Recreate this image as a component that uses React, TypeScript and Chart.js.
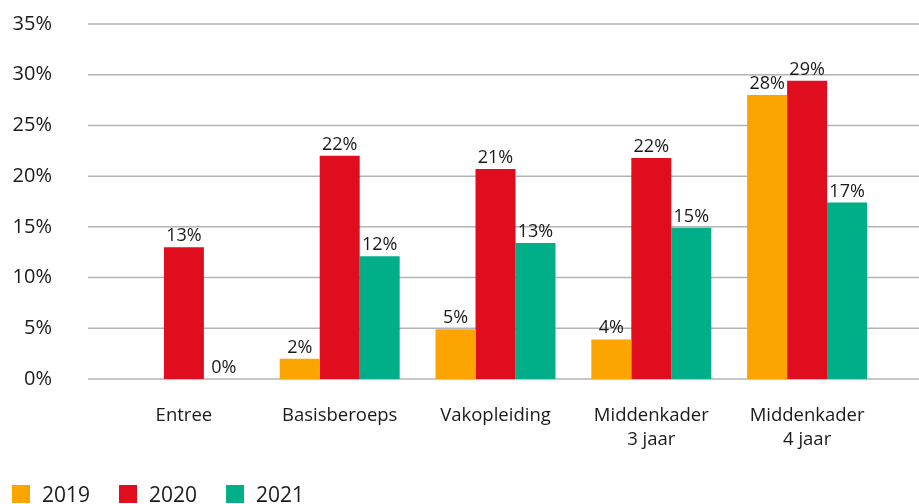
import React, { useEffect, useRef } from "react";
import { Chart, registerables } from "chart.js";

Chart.register(...registerables);

const categories: (string | string[])[] = [
  "Entree",
  "Basisberoeps",
  "Vakopleiding",
  ["Middenkader", "3 jaar"],
  ["Middenkader", "4 jaar"],
];
const seriesNames = ["2019", "2020", "2021"];
const values2019: (number | null)[] = [null, 2.0, 4.9, 3.9, 28.0];
const values2020: (number | null)[] = [13.0, 22.0, 20.7, 21.8, 29.4];
const values2021: (number | null)[] = [0, 12.1, 13.4, 14.9, 17.4];
const yTicks = [0, 5, 10, 15, 20, 25, 30, 35];

const COLORS = ["#fca400", "#e00d1f", "#00ae87"];
const FONT = "'Open Sans', 'Noto Sans', sans-serif";
const TEXT = "#1a1a1a";

const gridPlugin = {
  id: "wideGrid",
  beforeDatasetsDraw(chart: any) {
    const ctx = chart.ctx;
    const y = chart.scales.y;
    ctx.save();
    ctx.strokeStyle = "#b4b4b4";
    ctx.lineWidth = 1.5;
    y.ticks.forEach((t: any) => {
      const py = y.getPixelForValue(t.value);
      ctx.beginPath();
      ctx.moveTo(88, py);
      ctx.lineTo(chart.width, py);
      ctx.stroke();
    });
    ctx.restore();
  },
};

const labelPlugin = {
  id: "valueLabels",
  afterDatasetsDraw(chart: any) {
    const ctx = chart.ctx;
    ctx.save();
    ctx.font = `18px ${FONT}`;
    ctx.fillStyle = TEXT;
    ctx.textAlign = "center";
    ctx.textBaseline = "alphabetic";
    chart.data.datasets.forEach((ds: any, di: number) => {
      const meta = chart.getDatasetMeta(di);
      meta.data.forEach((el: any, i: number) => {
        const v = ds.data[i];
        if (v === null || v === undefined) return;
        ctx.fillText(`${Math.round(v)}%`, el.x, el.y - 6);
      });
    });
    ctx.restore();
  },
};

const legendPlugin = {
  id: "bottomLegend",
  afterDraw(chart: any) {
    const ctx = chart.ctx;
    ctx.save();
    ctx.font = `21px ${FONT}`;
    ctx.textBaseline = "alphabetic";
    ctx.textAlign = "left";
    let x = 12;
    chart.data.datasets.forEach((ds: any) => {
      ctx.fillStyle = ds.backgroundColor;
      ctx.fillRect(x, 485, 18, 18);
      ctx.fillStyle = TEXT;
      const tx = x + 30;
      ctx.fillText(ds.label, tx, 502);
      x = tx + ctx.measureText(ds.label).width + 29;
    });
    ctx.restore();
  },
};

export default function App() {
  const ref = useRef<HTMLCanvasElement | null>(null);

  useEffect(() => {
    if (!ref.current) return;
    const chart = new Chart(ref.current, {
      type: "bar",
      data: {
        labels: categories,
        datasets: [values2019, values2020, values2021].map((d, i) => ({
          label: seriesNames[i],
          data: d,
          backgroundColor: COLORS[i],
          borderWidth: 0,
          categoryPercentage: 0.77,
          barPercentage: 1,
        })),
      },
      options: {
        animation: false,
        responsive: false,
        devicePixelRatio: 1,
        layout: { padding: { left: 10, right: 34, top: 24, bottom: 0 } },
        plugins: {
          legend: { display: false },
          tooltip: { enabled: false },
        },
        scales: {
          x: {
            offset: true,
            grid: { display: false, drawTicks: false },
            border: { display: false },
            ticks: {
              padding: 25,
              color: TEXT,
              font: { family: FONT, size: 18.5, lineHeight: 1.3 },
              maxRotation: 0,
              autoSkip: false,
            },
            afterFit(scale: any) {
              scale.height = 125;
            },
          },
          y: {
            min: 0,
            max: 35,
            afterBuildTicks(scale: any) {
              scale.ticks = yTicks.map((v) => ({ value: v }));
            },
            grid: { display: false, drawTicks: false },
            border: { display: false },
            ticks: {
              padding: 54,
              color: TEXT,
              font: { family: FONT, size: 20 },
              callback: (v: any) => `${v}%`,
            },
            afterFit(scale: any) {
              scale.width = 96;
              scale.paddingTop = 12;
              scale.paddingBottom = 12;
            },
          },
        },
      },
      plugins: [gridPlugin, labelPlugin, legendPlugin],
    });
    return () => chart.destroy();
  }, []);

  return (
    <div style={{ position: "fixed", left: 0, top: 0, width: 919, height: 504, background: "#fff" }}>
      <canvas ref={ref} width={919} height={504} style={{ display: "block" }} />
    </div>
  );
}
